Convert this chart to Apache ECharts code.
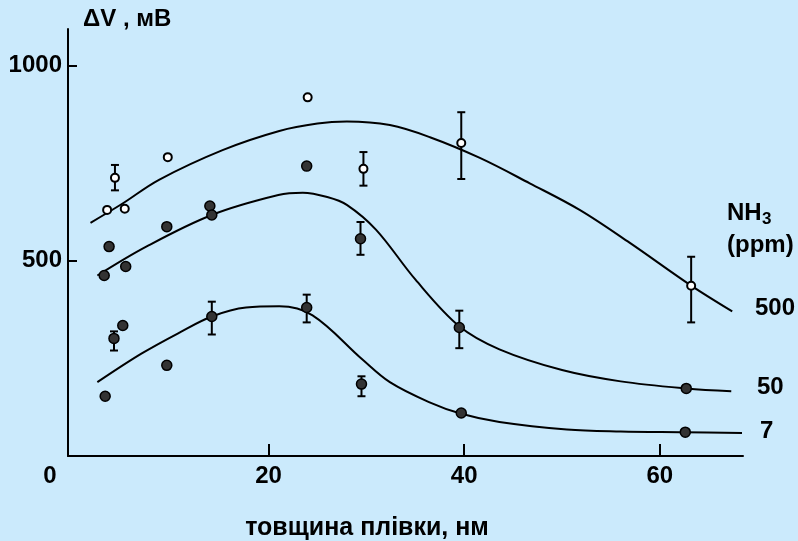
<!DOCTYPE html>
<html>
<head>
<meta charset="utf-8">
<script src="https://cdn.jsdelivr.net/npm/echarts@6/dist/echarts.min.js"></script>
<style>
html, body { margin: 0; padding: 0; background: #cbeafc; }
#chart { width: 798px; height: 541px; }
</style>
</head>
<body>
<div id="chart"></div>
<script>
// fitted curves (NH3, ppm)
var curve500 = [[1.8, 597], [5, 645], [8.8, 707], [15.3, 783], [21.1, 832], [25, 851], [28, 856], [32.4, 847], [36.5, 816], [41.6, 763], [46.7, 698], [51.8, 630], [56.9, 546], [63.2, 436], [67.4, 370]];
var curve50 = [[2.5, 462], [7.5, 536], [14.2, 617], [21, 668], [23.5, 674], [26, 663], [28, 643], [31, 579], [35, 452], [39.5, 332], [43.6, 273], [50, 220], [56, 191], [62.7, 173], [67.3, 166]];
var curve7 = [[2.5, 189], [7, 262], [10.9, 316], [14.2, 357], [17.7, 380], [21.1, 383], [24.5, 360], [29.6, 247], [32.4, 189], [36.4, 138], [39.7, 108], [43.6, 87], [50.5, 68], [56, 63], [62.5, 61], [68.4, 59]];

// measured points
var pts500 = [[3.5, 630], [4.3, 712], [5.3, 633], [9.7, 765], [24, 918], [29.7, 735], [39.7, 801], [63.2, 436]];
var pts50 = [[3.2, 462], [3.7, 536], [5.4, 485], [9.6, 587], [14, 640], [14.2, 617], [23.9, 742], [29.4, 556], [39.5, 329], [62.7, 173]];
var pts7 = [[3.3, 153], [4.2, 301], [5.1, 334], [9.6, 232], [14.2, 357], [23.9, 380], [29.5, 184], [39.7, 110], [62.6, 61]];

// error bars: [x, low, high]
var err500 = [[4.3, 680, 745], [29.7, 692, 778], [39.7, 709, 880], [63.2, 342, 510]];
var err50 = [[29.4, 515, 599], [39.5, 276, 372]];
var err7 = [[4.2, 270, 319], [14.2, 311, 395], [23.9, 342, 413], [29.5, 153, 204]];

var xTicks = [20, 40, 60];
var yTicks = [500, 1000];

var FONT = '"Liberation Sans", Arial, sans-serif';

function renderErr(params, api) {
    var top = api.coord([api.value(0), api.value(2)]);
    var bot = api.coord([api.value(0), api.value(1)]);
    var w = 4;
    var st = { stroke: '#000', lineWidth: 2 };
    return {
        type: 'group',
        children: [
            { type: 'line', shape: { x1: top[0], y1: top[1], x2: bot[0], y2: bot[1] }, style: st },
            { type: 'line', shape: { x1: top[0] - w, y1: top[1], x2: top[0] + w, y2: top[1] }, style: st },
            { type: 'line', shape: { x1: bot[0] - w, y1: bot[1], x2: bot[0] + w, y2: bot[1] }, style: st }
        ]
    };
}

function curve(data) {
    return {
        type: 'line', data: data, showSymbol: false, smooth: 0.35, silent: true,
        lineStyle: { color: '#000', width: 2 }, z: 2
    };
}

function txt(text, x, y, size, align) {
    return {
        type: 'text', x: x, y: y, z: 10,
        style: {
            text: text, fill: '#000', font: 'bold ' + size + 'px ' + FONT,
            align: align || 'left', verticalAlign: 'middle'
        }
    };
}

var chart = echarts.init(document.getElementById('chart'));
chart.setOption({
    backgroundColor: '#cbeafc',
    animation: false,
    grid: { left: 68, right: 55, top: 29, bottom: 85 },
    xAxis: {
        type: 'value', min: -0.5, max: 68.5,
        axisLine: { show: true, onZero: false, lineStyle: { color: '#000', width: 2 } },
        axisTick: { show: true, inside: true, length: 12, customValues: xTicks, lineStyle: { color: '#000', width: 2 } },
        axisLabel: { customValues: xTicks, color: '#000', fontSize: 24, fontWeight: 'bold', fontFamily: FONT, margin: 8 },
        splitLine: { show: false }
    },
    yAxis: {
        type: 'value', min: 0, max: 1093,
        axisLine: { show: true, onZero: false, lineStyle: { color: '#000', width: 2 } },
        axisTick: { show: true, inside: true, length: 9, customValues: yTicks, lineStyle: { color: '#000', width: 2 } },
        axisLabel: {
            customValues: yTicks, color: '#000', fontSize: 24, fontWeight: 'bold', fontFamily: FONT, margin: 6,
            formatter: function (v) { return String(v); }
        },
        splitLine: { show: false }
    },
    graphic: [
        txt('0', 50, 476, 24, 'center'),
        txt('ΔV , мВ', 83, 19, 24),
        txt('товщина плівки, нм', 367, 528, 25, 'center'),
        txt('NH', 727, 213, 24),
        txt('3', 762, 219, 17),
        txt('(ppm)', 727, 245, 24),
        txt('500', 755, 308, 24),
        txt('50', 757, 387, 24),
        txt('7', 760, 431, 24)
    ],
    series: [
        curve(curve500),
        curve(curve50),
        curve(curve7),
        {
            type: 'custom', renderItem: renderErr, silent: true, z: 3,
            encode: { x: 0, y: [1, 2] },
            data: err500.concat(err50, err7)
        },
        {
            type: 'scatter', data: pts500, symbolSize: 8, z: 5,
            itemStyle: { color: '#fff', borderColor: '#000', borderWidth: 2, opacity: 1 }
        },
        {
            type: 'scatter', data: pts50.concat(pts7), symbolSize: 10, z: 5,
            itemStyle: { color: '#333', borderColor: '#000', borderWidth: 1.5, opacity: 1 }
        }
    ]
});
</script>
</body>
</html>
